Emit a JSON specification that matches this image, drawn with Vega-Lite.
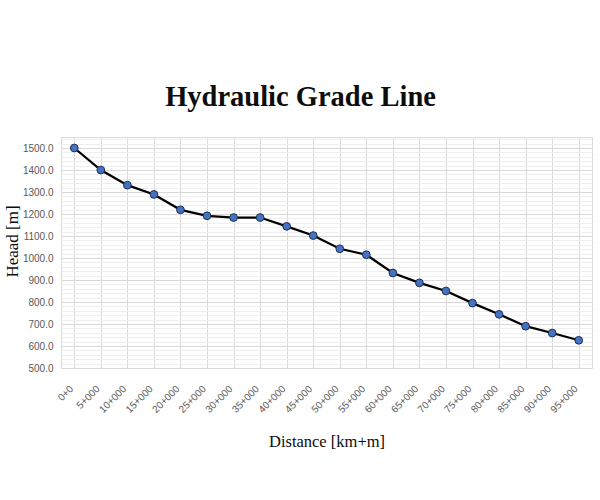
{
  "$schema": "https://vega.github.io/schema/vega-lite/v6.json",
  "autosize": "none",
  "width": 531,
  "height": 231,
  "padding": {"left": 61, "top": 137, "right": 8, "bottom": 132},
  "background": "white",
  "config": {"view": {"stroke": "#d9d9d9", "strokeWidth": 1}},
  "title": {"text": "Hydraulic Grade Line", "font": "Liberation Serif", "fontSize": 28.5, "fontWeight": "bold", "color": "#0d0d0d", "offset": 26, "anchor": "middle", "dx": -26},
  "data": {"values": [
    {"distance": "0+0", "head": 1500},
    {"distance": "5+000", "head": 1400},
    {"distance": "10+000", "head": 1331},
    {"distance": "15+000", "head": 1289},
    {"distance": "20+000", "head": 1219},
    {"distance": "25+000", "head": 1192},
    {"distance": "30+000", "head": 1184},
    {"distance": "35+000", "head": 1184},
    {"distance": "40+000", "head": 1144},
    {"distance": "45+000", "head": 1102},
    {"distance": "50+000", "head": 1042},
    {"distance": "55+000", "head": 1015},
    {"distance": "60+000", "head": 932},
    {"distance": "65+000", "head": 887},
    {"distance": "70+000", "head": 850},
    {"distance": "75+000", "head": 795},
    {"distance": "80+000", "head": 744},
    {"distance": "85+000", "head": 690},
    {"distance": "90+000", "head": 659},
    {"distance": "95+000", "head": 626}
  ]},
  "layer": [
    {
      "mark": {"type": "point", "opacity": 0},
      "encoding": {
        "x": {"field": "distance", "type": "nominal", "sort": null, "scale": {"paddingInner": 0, "paddingOuter": 0},
          "axis": {"orient": "top", "grid": true, "gridColor": "#f0f0f0", "gridWidth": 1, "bandPosition": 0.5, "labels": false, "ticks": false, "domain": false, "title": null}},
        "y": {"field": "head", "type": "quantitative", "scale": {"domain": [500, 1550], "nice": false, "zero": false},
          "axis": {"orient": "right", "grid": true, "gridColor": "#efefef", "gridWidth": 1,
            "values": [520,540,560,580,620,640,660,680,720,740,760,780,820,840,860,880,920,940,960,980,1020,1040,1060,1080,1120,1140,1160,1180,1220,1240,1260,1280,1320,1340,1360,1380,1420,1440,1460,1480,1520,1540],
            "labels": false, "ticks": false, "domain": false, "title": null}}
      }
    },
    {
      "mark": {"type": "point", "opacity": 0},
      "encoding": {
        "x": {"field": "distance", "type": "nominal", "sort": null,
          "axis": {"orient": "top", "grid": true, "gridColor": "#d9d9d9", "gridWidth": 1, "bandPosition": 0, "labels": false, "ticks": false, "domain": false, "title": null}},
        "y": {"field": "head", "type": "quantitative",
          "axis": {"orient": "left", "grid": true, "gridColor": "#d9d9d9", "gridWidth": 1,
            "values": [500,600,700,800,900,1000,1100,1200,1300,1400,1500],
            "format": ".1f", "labelFont": "Liberation Sans", "labelFontSize": 10, "labelColor": "#595959", "labelPadding": 8,
            "ticks": false, "domain": false,
            "title": "Heaad [m]", "titleFont": "Liberation Serif", "titleFontSize": 17, "titleFontWeight": "normal", "titleColor": "#0d0d0d",
            "titleX": -49, "titleY": 104, "titleBaseline": "middle", "titleAngle": -90}}
      }
    },
    {
      "mark": {"type": "line", "color": "#000000", "strokeWidth": 2.25},
      "encoding": {
        "x": {"field": "distance", "type": "nominal", "sort": null,
          "axis": {"orient": "bottom", "grid": false, "ticks": false, "domain": false,
            "labelAngle": -45, "labelAlign": "right", "labelBaseline": "middle", "labelFont": "Liberation Sans", "labelFontSize": 10, "labelColor": "#595959", "labelPadding": 19, "labelOffset": -3,
            "title": "Distance [km+m]", "titleFont": "Liberation Serif", "titleFontSize": 16.5, "titleFontWeight": "normal", "titleColor": "#0d0d0d",
            "titleY": 73, "titleBaseline": "middle"}},
        "y": {"field": "head", "type": "quantitative", "axis": null}
      }
    },
    {
      "mark": {"type": "point", "filled": true, "fill": "#4472c4", "stroke": "#1f2f50", "strokeWidth": 1, "size": 60, "opacity": 1, "shape": "circle"},
      "encoding": {
        "x": {"field": "distance", "type": "nominal", "sort": null, "axis": null},
        "y": {"field": "head", "type": "quantitative", "axis": null}
      }
    }
  ],
  "resolve": {"axis": {"x": "independent", "y": "independent"}}
}
